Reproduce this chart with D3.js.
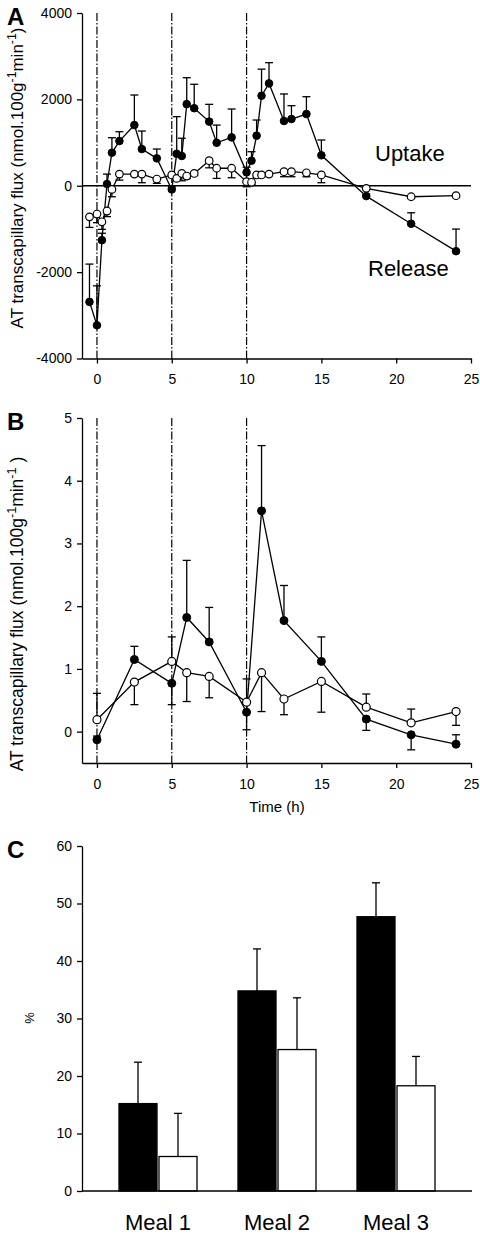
<!DOCTYPE html>
<html>
<head>
<meta charset="utf-8">
<script src="https://cdn.jsdelivr.net/npm/d3@7"></script>
<style>
  html, body { margin: 0; padding: 0; background: #fff; }
  svg { display: block; font-family: "Liberation Sans", Arial, sans-serif; }
</style>
</head>
<body>
<svg id="chart" width="480" height="1236"></svg>
<script>
// ---------- DATA ----------
const mealTimes = [0, 5, 10];

// Panel A
const timeA = [-0.5, 0, 0.33, 0.67, 1, 1.5, 2.5, 3, 4, 5, 5.33, 5.67, 6, 6.5, 7.5, 8, 9, 10, 10.33, 10.67, 11, 11.5, 12.5, 13, 14, 15, 18, 21, 24];
const filledA = [-2690, -3230, -1260, 40, 765, 1035, 1405, 850, 635, -85, 740, 690, 1890, 1795, 1485, 995, 1120, 310, 580, 1160, 2085, 2370, 1500, 1545, 1660, 705, -240, -880, -1515];
const filledAErr = [876, 913, 160, 230, 347, 216, 696, 417, 215, 60, 860, 410, 612, 555, 400, 410, 657, 120, 208, 362, 615, 480, 625, 309, 402, 354, 40, 254, 512];
const openA = [-720, -655, -835, -585, -85, 270, 270, 270, 155, 250, 170, 285, 225, 285, 580, 405, 405, 95, 80, 250, 250, 270, 325, 325, 300, 250, -60, -255, -230];
const openAErr = [-245, -200, -175, -130, -170, -140, -40, -200, -100, -60, -40, -170, -60, -50, -165, -235, -220, -118, -50, -60, -40, -40, -116, -116, -92, -180, -30, -40, -40];
const yTicksA = [-4000, -2000, 0, 2000, 4000];

// Panel B
const timeB = [0, 2.5, 5, 6, 7.5, 10, 11, 12.5, 15, 18, 21, 24];
const filledB = [-0.13, 1.15, 0.77, 1.82, 1.43, 0.31, 3.52, 1.77, 1.12, 0.20, -0.05, -0.20];
const filledBErr = [0.06, 0.21, -0.34, 0.91, 0.55, -0.28, 1.04, 0.56, 0.39, -0.18, -0.24, 0.15];
const openB = [0.19, 0.79, 1.12, 0.94, 0.88, 0.47, 0.94, 0.52, 0.80, 0.39, 0.14, 0.32];
const openBErr = [0.42, -0.36, 0.39, -0.46, -0.34, 0.37, -0.62, -0.25, -0.49, 0.21, 0.22, -0.22];
const yTicksB = [0, 1, 2, 3, 4, 5];
const xTicks = [0, 5, 10, 15, 20, 25];

// Panel C
const meals = ["Meal 1", "Meal 2", "Meal 3"];
const blackC = [15.2, 34.8, 47.7];
const blackCErr = [7.2, 7.3, 5.9];
const whiteC = [6.0, 24.6, 18.3];
const whiteCErr = [7.5, 9.0, 5.1];
const yTicksC = [0, 10, 20, 30, 40, 50, 60];

// ---------- DRAW ----------
const svg = d3.select("#chart");
const FONT = 14;
const x = d3.scaleLinear().domain([-1, 25]).range([82, 471]);

function styleAxis(g) {
  g.selectAll("path, line").attr("stroke", "#000").attr("stroke-width", 1.3);
  g.selectAll("text").attr("font-size", FONT).attr("fill", "#000")
    .attr("font-family", '"Liberation Sans", Arial, sans-serif');
}

function yLabel(cx, cy, size, closing) {
  const t = svg.append("text")
    .attr("transform", `translate(${cx},${cy}) rotate(-90)`)
    .attr("text-anchor", "middle")
    .attr("font-size", size)
    .attr("dy", "0.35em");
  t.append("tspan").text("AT transcapillary flux (nmol.100g");
  t.append("tspan").attr("baseline-shift", "super").attr("font-size", size * 0.72).text("-1");
  t.append("tspan").text("min");
  t.append("tspan").attr("baseline-shift", "super").attr("font-size", size * 0.72).text("-1");
  t.append("tspan").text(closing);
  return t;
}

function timePanel(y, time, filled, filledErr, open, openErr, yTicks, r, zeroLine) {
  const [y0, y1] = y.range();
  const g = svg.append("g");
  g.selectAll("line.meal").data(mealTimes).join("line")
    .attr("x1", d => x(d)).attr("x2", d => x(d))
    .attr("y1", y1).attr("y2", y0)
    .attr("stroke", "#000").attr("stroke-width", 1.2)
    .attr("stroke-dasharray", "8,2,1.5,2");
  if (zeroLine) {
    g.append("line").attr("x1", x(-1)).attr("x2", x(25))
      .attr("y1", y(0)).attr("y2", y(0)).attr("stroke", "#000").attr("stroke-width", 1.3);
  }
  const line = d3.line().x(d => x(d[0])).y(d => y(d[1]));
  const fPts = time.map((t, i) => [t, filled[i], filledErr[i]]);
  const oPts = time.map((t, i) => [t, open[i], openErr[i]]);
  [fPts, oPts].forEach(pts => {
    g.append("path").attr("d", line(pts)).attr("fill", "none")
      .attr("stroke", "#000").attr("stroke-width", 1.3);
  });
  [fPts, oPts].forEach(pts => {
    const eb = g.append("g");
    eb.selectAll("line.v").data(pts).join("line")
      .attr("x1", d => x(d[0])).attr("x2", d => x(d[0]))
      .attr("y1", d => y(d[1])).attr("y2", d => y(d[1] + d[2]))
      .attr("stroke", "#000").attr("stroke-width", 1.3);
    eb.selectAll("line.c").data(pts).join("line")
      .attr("x1", d => x(d[0]) - 4).attr("x2", d => x(d[0]) + 4)
      .attr("y1", d => y(d[1] + d[2])).attr("y2", d => y(d[1] + d[2]))
      .attr("stroke", "#000").attr("stroke-width", 1.3);
  });
  g.selectAll("circle.f").data(fPts).join("circle")
    .attr("cx", d => x(d[0])).attr("cy", d => y(d[1])).attr("r", r)
    .attr("fill", "#000").attr("stroke", "#000").attr("stroke-width", 1);
  g.selectAll("circle.o").data(oPts).join("circle")
    .attr("cx", d => x(d[0])).attr("cy", d => y(d[1])).attr("r", r)
    .attr("fill", "#fff").attr("stroke", "#000").attr("stroke-width", 1.2);
  g.append("g").attr("transform", `translate(82,0)`)
    .call(d3.axisLeft(y).tickValues(yTicks).tickFormat(d => String(d)).tickSize(5).tickPadding(5).tickSizeOuter(0))
    .call(styleAxis);
  g.append("g").attr("transform", `translate(0,${y0})`)
    .call(d3.axisBottom(x).tickValues(xTicks).tickFormat(d => String(d)).tickSize(5).tickPadding(11).tickSizeOuter(0))
    .call(styleAxis);
  return g;
}

// Panel A
const yA = d3.scaleLinear().domain([-4000, 4000]).range([358.5, 13]);
timePanel(yA, timeA, filledA, filledAErr, openA, openAErr, yTicksA, 3.8, true);
yLabel(17, 178, 17, ")");
svg.append("text").attr("x", 375).attr("y", 161).attr("font-size", 22).text("Uptake");
svg.append("text").attr("x", 368).attr("y", 276).attr("font-size", 22).text("Release");
svg.append("text").attr("x", 7).attr("y", 25).attr("font-size", 24).attr("font-weight", "bold").text("A");

// Panel B
const yB = d3.scaleLinear().domain([-0.5, 5]).range([763, 418]);
timePanel(yB, timeB, filledB, filledBErr, openB, openBErr, yTicksB, 4, false);
yLabel(17, 614, 17.5, " )");
svg.append("text").attr("x", 277).attr("y", 812).attr("text-anchor", "middle").attr("font-size", 15).text("Time (h)");
svg.append("text").attr("x", 7).attr("y", 430).attr("font-size", 24).attr("font-weight", "bold").text("B");

// Panel C
const yC = d3.scaleLinear().domain([0, 60]).range([1191, 846]);
const xC = d3.scaleBand().domain(meals).range([98.5, 455.5]);
const xSub = d3.scaleBand().domain(["black", "white"]).range([-39, 39]).paddingInner(0.05);
const gC = svg.append("g");
const barData = [];
meals.forEach((m, i) => {
  barData.push({ meal: m, s: "black", v: blackC[i], e: blackCErr[i] });
  barData.push({ meal: m, s: "white", v: whiteC[i], e: whiteCErr[i] });
});
const cx = d => xC(d.meal) + xC.bandwidth() / 2 + xSub(d.s) + xSub.bandwidth() / 2;
gC.selectAll("line.ev").data(barData).join("line")
  .attr("x1", cx).attr("x2", cx)
  .attr("y1", d => yC(d.v)).attr("y2", d => yC(d.v + d.e))
  .attr("stroke", "#000").attr("stroke-width", 1.3);
gC.selectAll("line.ec").data(barData).join("line")
  .attr("x1", d => cx(d) - 4).attr("x2", d => cx(d) + 4)
  .attr("y1", d => yC(d.v + d.e)).attr("y2", d => yC(d.v + d.e))
  .attr("stroke", "#000").attr("stroke-width", 1.3);
gC.selectAll("rect").data(barData).join("rect")
  .attr("x", d => xC(d.meal) + xC.bandwidth() / 2 + xSub(d.s))
  .attr("y", d => yC(d.v))
  .attr("width", xSub.bandwidth())
  .attr("height", d => yC(0) - yC(d.v))
  .attr("fill", d => d.s === "black" ? "#000" : "#fff")
  .attr("stroke", "#000").attr("stroke-width", 1.3);
gC.append("g").attr("transform", "translate(82,0)")
  .call(d3.axisLeft(yC).tickValues(yTicksC).tickFormat(d => String(d)).tickSize(5).tickPadding(5).tickSizeOuter(0))
  .call(styleAxis);
gC.append("line").attr("x1", 82).attr("x2", 472).attr("y1", yC(0)).attr("y2", yC(0))
  .attr("stroke", "#000").attr("stroke-width", 1.3);
gC.selectAll("text.meal").data(meals).join("text")
  .attr("x", d => xC(d) + xC.bandwidth() / 2)
  .attr("y", 1230).attr("text-anchor", "middle").attr("font-size", 22).text(d => d);
svg.append("text").attr("transform", "translate(29,1018) rotate(-90)")
  .attr("text-anchor", "middle").attr("dy", "0.35em").attr("font-size", 13).text("%");
svg.append("text").attr("x", 7).attr("y", 858).attr("font-size", 24).attr("font-weight", "bold").text("C");
</script>
</body>
</html>
